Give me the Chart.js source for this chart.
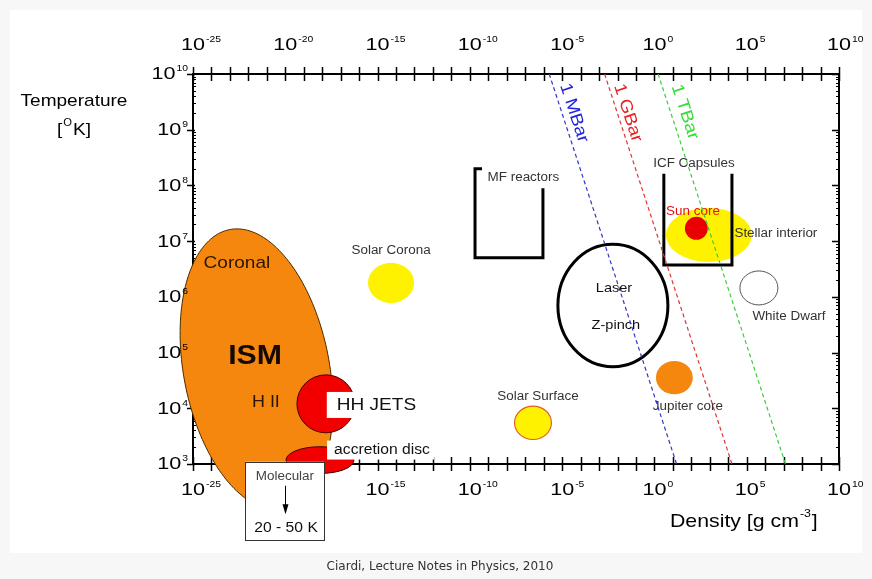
<!DOCTYPE html>
<html>
<head>
<meta charset="utf-8">
<title>Temperature vs density of plasmas</title>
<script src="https://cdn.jsdelivr.net/npm/chart.js@4.4.0/dist/chart.umd.min.js"></script>
<style>
  html, body { margin: 0; padding: 0; background: #f7f7f7; }
  canvas { display: block; }
</style>
</head>
<body>
<canvas id="chart" width="872" height="579"></canvas>
<script>
// everything below is in log10 units: density [g cm^-3], temperature [K]
const densityRange = [-25, 10];
const temperatureRange = [3, 10];
const densityLabelExps = [-25, -20, -15, -10, -5, 0, 5, 10];
const temperatureLabelExps = [3, 4, 5, 6, 7, 8, 9, 10];

// constant pressure lines, density where they cross T = 1e10 and T = 1e3
const pressureNames = ['1 MBar', '1 GBar', '1 TBar'];
const pressureTopDensity = [-5.7, -2.7, 0.2];
const pressureBottomDensity = [1.2, 4.2, 7.1];
const pressureLabelDensity = [-4.36, -1.44, 1.65];
const pressureLabelTemp = [9.30, 9.30, 9.32];

// interstellar medium: centre and two conjugate half-diameters (decades)
const ismCentre = [-21.56, 4.70];
const ismAxisA = [-1.06, 2.52];
const ismAxisB = [4.0, 0];

// other regions as axis-aligned ellipses: centre and half-size in decades
const regionNames = ['HH JETS', 'accretion disc', 'Solar Corona', 'Solar Surface', 'Jupiter core',
  'Laser / Z-pinch', 'Stellar interior', 'Sun core', 'White Dwarf'];
const regionDensity = [-17.80, -18.12, -14.27, -6.58, 1.08, -2.25, 2.95, 2.27, 5.66];
const regionTemp = [4.08, 3.07, 6.25, 3.74, 4.55, 5.845, 7.11, 7.23, 6.16];
const regionDensityHalf = [1.57, 1.84, 1.25, 1.0, 1.0, 2.98, 2.33, 0.62, 1.03];
const regionTempHalf = [0.52, 0.24, 0.36, 0.30, 0.30, 1.10, 0.485, 0.206, 0.305];

// open boxes for the laboratory devices
const mfDensity = [-9.34, -9.72, -9.72, -6.04, -6.04];
const mfTemp = [8.30, 8.30, 6.70, 6.70, 7.95];
const icfDensity = [0.51, 0.51, 4.2, 4.2];
const icfTemp = [8.21, 6.57, 6.57, 8.21];

// molecular clouds note below the axis
const molecularDensity = [-22.18, -17.90];
const molecularTemp = [3.04, 1.64];
const molecularArrowTemp = [2.61, 2.10];

const labelText = ['Coronal', 'ISM', 'H II', 'HH JETS', 'accretion disc', 'Molecular', '20 - 50 K',
  'Solar Corona', 'Solar Surface', 'MF reactors', 'ICF Capsules', 'Sun core', 'Stellar interior',
  'Laser', 'Z-pinch', 'White Dwarf', 'Jupiter core'];
const labelDensity = [-22.62, -21.64, -21.05, -15.06, -14.76, -20.02, -19.96,
  -14.27, -6.31, -7.10, 2.14, 2.09, 6.58, -2.19, -2.09, 7.29, 1.81];
const labelTemp = [6.61, 4.93, 4.11, 4.06, 3.25, 2.77, 1.85,
  6.82, 4.20, 8.13, 8.39, 7.52, 7.13, 6.16, 5.48, 5.64, 4.02];

// styles
const FONT = '"Liberation Sans", Arial, sans-serif';
const TEXT_SX = 1.12;
const pressureColors = { '1 MBar': '#3434cc', '1 GBar': '#e03434', '1 TBar': '#3ccc3c' };
const pressureTextColors = { '1 MBar': '#2222dd', '1 GBar': '#e82222', '1 TBar': '#33dd33' };
const regionStyle = {
  'HH JETS': { fill: '#f20000', stroke: '#4a0000', width: 1 },
  'accretion disc': { fill: '#f20000', stroke: '#4a0000', width: 1 },
  'Solar Corona': { fill: '#fff200' },
  'Solar Surface': { fill: '#fff200', stroke: '#e0602a', width: 1.2 },
  'Jupiter core': { fill: '#f5870f' },
  'Laser / Z-pinch': { stroke: '#000', width: 3 },
  'Stellar interior': { fill: '#fff200' },
  'Sun core': { fill: '#ea0000' },
  'White Dwarf': { stroke: '#555', width: 1 }
};
const labelStyle = {
  'Coronal': { size: 17, color: '#2a1500' },
  'ISM': { size: 27, bold: true, color: '#150a00' },
  'H II': { size: 16, color: '#2a1500' },
  'HH JETS': { size: 17, color: '#111', box: [10, 4, 26] },
  'accretion disc': { size: 14, color: '#111', box: [7, 4, 19] },
  'Molecular': { size: 12, color: '#444' },
  '20 - 50 K': { size: 14, color: '#111' },
  'Sun core': { size: 12, color: '#e81010' },
  'Laser': { size: 13, color: '#111' },
  'Z-pinch': { size: 13, color: '#111' }
};

const pow10 = e => Math.pow(10, e);

function putText(ctx, text, x, y, font, color, align, sx, angle) {
  ctx.save();
  ctx.font = font;
  ctx.fillStyle = color;
  ctx.textAlign = align;
  ctx.textBaseline = 'middle';
  ctx.translate(x, y);
  if (angle) ctx.rotate(angle);
  ctx.scale(sx, 1);
  ctx.fillText(text, 0, 0);
  ctx.restore();
}

function textWidth(ctx, text, font, sx) {
  ctx.font = font;
  return ctx.measureText(text).width * sx;
}

// "10" with a raised exponent
const POW_BASE = '16px ' + FONT;
const POW_SUP = '9px ' + FONT;
const POW_SX = 1.35;
const SUP_SX = 1.15;
function drawPower(ctx, exp, x, y, mode) {
  const sup = String(exp);
  const wb = textWidth(ctx, '10', POW_BASE, POW_SX);
  const ws = textWidth(ctx, sup, POW_SUP, SUP_SX);
  const left = mode === 'center' ? x - wb / 2 : x - wb - ws - 1;
  putText(ctx, '10', left, y, POW_BASE, '#000', 'left', POW_SX);
  putText(ctx, sup, left + wb + 1, y - 6, POW_SUP, '#000', 'left', SUP_SX);
}

function drawTicks(ctx, X, Y, area) {
  ctx.strokeStyle = '#000';
  ctx.lineWidth = 1.5;
  ctx.beginPath();
  for (let e = densityRange[0]; e <= densityRange[1]; e++) {
    const px = Math.round(X(e)) + 0.5;
    ctx.moveTo(px, area.top - 7); ctx.lineTo(px, area.top + 7);
    ctx.moveTo(px, area.bottom - 7); ctx.lineTo(px, area.bottom + 7);
  }
  for (let e = temperatureRange[0]; e <= temperatureRange[1]; e++) {
    const py = Math.round(Y(e)) + 0.5;
    ctx.moveTo(area.left - 6, py); ctx.lineTo(area.left + 2, py);
    ctx.moveTo(area.right - 7, py); ctx.lineTo(area.right, py);
  }
  ctx.stroke();
  ctx.lineWidth = 1;
  ctx.beginPath();
  for (let e = temperatureRange[0]; e < temperatureRange[1]; e++) {
    for (let k = 2; k <= 9; k++) {
      const py = Math.round(Y(e + Math.log10(k))) + 0.5;
      ctx.moveTo(area.left, py); ctx.lineTo(area.left + 3, py);
      ctx.moveTo(area.right - 3, py); ctx.lineTo(area.right, py);
    }
  }
  ctx.stroke();
}

function drawTickLabels(ctx, X, Y, area) {
  densityLabelExps.forEach(e => {
    drawPower(ctx, e, X(e), area.top - 28, 'center');
    drawPower(ctx, e, X(e), area.bottom + 27, 'center');
  });
  temperatureLabelExps.forEach(e => {
    drawPower(ctx, e, area.left - 5, Y(e) + 1, 'right');
  });
}

const diagramPlugin = {
  id: 'diagram',
  beforeDraw(chart) {
    const ctx = chart.ctx;
    ctx.save();
    ctx.fillStyle = '#f7f7f7';
    ctx.fillRect(0, 0, chart.width, chart.height);
    ctx.fillStyle = '#ffffff';
    ctx.fillRect(10, 10, 852, 543);
    putText(ctx, 'Ciardi, Lecture Notes in Physics, 2010', 440, 567, '12px "DejaVu Sans", sans-serif', '#333', 'center', 1);
    ctx.restore();
  },
  beforeDatasetsDraw(chart) {
    const ctx = chart.ctx;
    const area = chart.chartArea;
    const xs = chart.scales.x, ys = chart.scales.y;
    const X = d => xs.getPixelForValue(pow10(d));
    const Y = t => ys.getPixelForValue(pow10(t));
    ctx.save();

    drawTicks(ctx, X, Y, area);

    // interstellar medium ellipse
    ctx.beginPath();
    for (let i = 0; i <= 180; i++) {
      const a = i / 180 * Math.PI * 2;
      const d = ismCentre[0] + ismAxisA[0] * Math.cos(a) + ismAxisB[0] * Math.sin(a);
      const t = ismCentre[1] + ismAxisA[1] * Math.cos(a) + ismAxisB[1] * Math.sin(a);
      if (i === 0) ctx.moveTo(X(d), Y(t)); else ctx.lineTo(X(d), Y(t));
    }
    ctx.closePath();
    ctx.fillStyle = '#f5870f';
    ctx.fill();
    ctx.strokeStyle = '#4a2a00';
    ctx.lineWidth = 1;
    ctx.stroke();

    drawTickLabels(ctx, X, Y, area);

    // axis titles
    putText(ctx, 'Temperature', 74, 101, '17px ' + FONT, '#000', 'center', TEXT_SX);
    {
      const f = '17px ' + FONT, fs = '10px ' + FONT;
      const w1 = textWidth(ctx, '[', f, TEXT_SX), w2 = textWidth(ctx, 'O', fs, TEXT_SX), w3 = textWidth(ctx, 'K]', f, TEXT_SX);
      let x0 = 74 - (w1 + w2 + w3 + 2) / 2;
      putText(ctx, '[', x0, 130, f, '#000', 'left', TEXT_SX);
      putText(ctx, 'O', x0 + w1 + 1, 123, fs, '#000', 'left', TEXT_SX);
      putText(ctx, 'K]', x0 + w1 + w2 + 2, 130, f, '#000', 'left', TEXT_SX);
    }
    {
      const f = '19px ' + FONT, fs = '11px ' + FONT;
      const w1 = textWidth(ctx, 'Density [g cm', f, TEXT_SX), w2 = textWidth(ctx, '-3', fs, TEXT_SX);
      putText(ctx, 'Density [g cm', 670, 522, f, '#000', 'left', TEXT_SX);
      putText(ctx, '-3', 670 + w1 + 1, 514, fs, '#000', 'left', TEXT_SX);
      putText(ctx, ']', 670 + w1 + w2 + 2, 522, f, '#000', 'left', TEXT_SX);
    }

    // regions
    regionNames.forEach((name, i) => {
      const st = regionStyle[name];
      const cx = X(regionDensity[i]), cy = Y(regionTemp[i]);
      const rx = Math.abs(X(regionDensity[i] + regionDensityHalf[i]) - cx);
      const ry = Math.abs(Y(regionTemp[i] + regionTempHalf[i]) - cy);
      ctx.beginPath();
      ctx.ellipse(cx, cy, rx, ry, 0, 0, Math.PI * 2);
      if (st.fill) { ctx.fillStyle = st.fill; ctx.fill(); }
      if (st.stroke) { ctx.strokeStyle = st.stroke; ctx.lineWidth = st.width; ctx.stroke(); }
    });

    // MF reactors and ICF capsules
    ctx.strokeStyle = '#000';
    ctx.lineWidth = 3;
    ctx.lineJoin = 'miter';
    [[mfDensity, mfTemp], [icfDensity, icfTemp]].forEach(([ds, ts]) => {
      ctx.beginPath();
      ds.forEach((d, i) => {
        if (i === 0) ctx.moveTo(X(d), Y(ts[i])); else ctx.lineTo(X(d), Y(ts[i]));
      });
      ctx.stroke();
    });

    // molecular clouds box with arrow
    {
      const x0 = X(molecularDensity[0]), x1 = X(molecularDensity[1]);
      const y0 = Y(molecularTemp[0]), y1 = Y(molecularTemp[1]);
      ctx.fillStyle = '#fff';
      ctx.fillRect(x0, y0, x1 - x0, y1 - y0);
      ctx.strokeStyle = '#333';
      ctx.lineWidth = 1;
      ctx.strokeRect(Math.round(x0) + 0.5, Math.round(y0) + 0.5, Math.round(x1 - x0), Math.round(y1 - y0));
      const ax = Math.round(X(labelDensity[5])) + 0.5;
      const ay0 = Y(molecularArrowTemp[0]), ay1 = Y(molecularArrowTemp[1]);
      ctx.strokeStyle = '#000';
      ctx.beginPath();
      ctx.moveTo(ax, ay0); ctx.lineTo(ax, ay1 - 6);
      ctx.stroke();
      ctx.fillStyle = '#000';
      ctx.beginPath();
      ctx.moveTo(ax, ay1); ctx.lineTo(ax - 3, ay1 - 10); ctx.lineTo(ax + 3, ay1 - 10);
      ctx.closePath();
      ctx.fill();
    }

    // text labels
    labelText.forEach((text, i) => {
      const st = labelStyle[text] || { size: 12, color: '#333' };
      const font = (st.bold ? 'bold ' : '') + st.size + 'px ' + FONT;
      const x = X(labelDensity[i]), y = Y(labelTemp[i]);
      if (st.box) {
        const w = textWidth(ctx, text, font, TEXT_SX);
        ctx.fillStyle = '#fff';
        ctx.fillRect(x - w / 2 - st.box[0], y - st.box[2] / 2, w + st.box[0] + st.box[1], st.box[2]);
      }
      putText(ctx, text, x, y, font, st.color, 'center', TEXT_SX);
    });

    ctx.restore();
  },
  afterDatasetsDraw(chart) {
    const ctx = chart.ctx;
    const xs = chart.scales.x, ys = chart.scales.y;
    pressureNames.forEach((name, i) => {
      const x0 = xs.getPixelForValue(pow10(pressureTopDensity[i])), y0 = ys.getPixelForValue(pow10(temperatureRange[1]));
      const x1 = xs.getPixelForValue(pow10(pressureBottomDensity[i])), y1 = ys.getPixelForValue(pow10(temperatureRange[0]));
      const angle = Math.atan2(y1 - y0, x1 - x0);
      putText(ctx, name, xs.getPixelForValue(pow10(pressureLabelDensity[i])), ys.getPixelForValue(pow10(pressureLabelTemp[i])),
        '17px ' + FONT, pressureTextColors[name], 'center', TEXT_SX, angle);
    });
  }
};

function logAxis(position, range, size) {
  const horizontal = position === 'top' || position === 'bottom';
  return {
    type: 'logarithmic',
    position: position,
    min: pow10(range[0]),
    max: pow10(range[1]),
    ticks: { display: false },
    grid: { display: false },
    border: { display: true, color: '#000', width: 2 },
    afterFit(scale) {
      if (horizontal) scale.height = size; else scale.width = size;
    }
  };
}

new Chart(document.getElementById('chart'), {
  type: 'scatter',
  data: {
    datasets: pressureNames.map((name, i) => ({
      label: name,
      data: [
        { x: pow10(pressureTopDensity[i]), y: pow10(temperatureRange[1]) },
        { x: pow10(pressureBottomDensity[i]), y: pow10(temperatureRange[0]) }
      ],
      showLine: true,
      borderColor: pressureColors[name],
      borderWidth: 1.2,
      borderDash: [4, 3],
      pointRadius: 0,
      fill: false,
      xAxisID: 'x',
      yAxisID: 'y'
    }))
  },
  options: {
    responsive: false,
    animation: false,
    events: [],
    layout: { padding: 0 },
    plugins: { legend: { display: false }, tooltip: { enabled: false } },
    scales: {
      x: logAxis('bottom', densityRange, 115),
      x2: logAxis('top', densityRange, 74),
      y: logAxis('left', temperatureRange, 193),
      y2: logAxis('right', temperatureRange, 33)
    }
  },
  plugins: [diagramPlugin]
});
</script>
</body>
</html>
